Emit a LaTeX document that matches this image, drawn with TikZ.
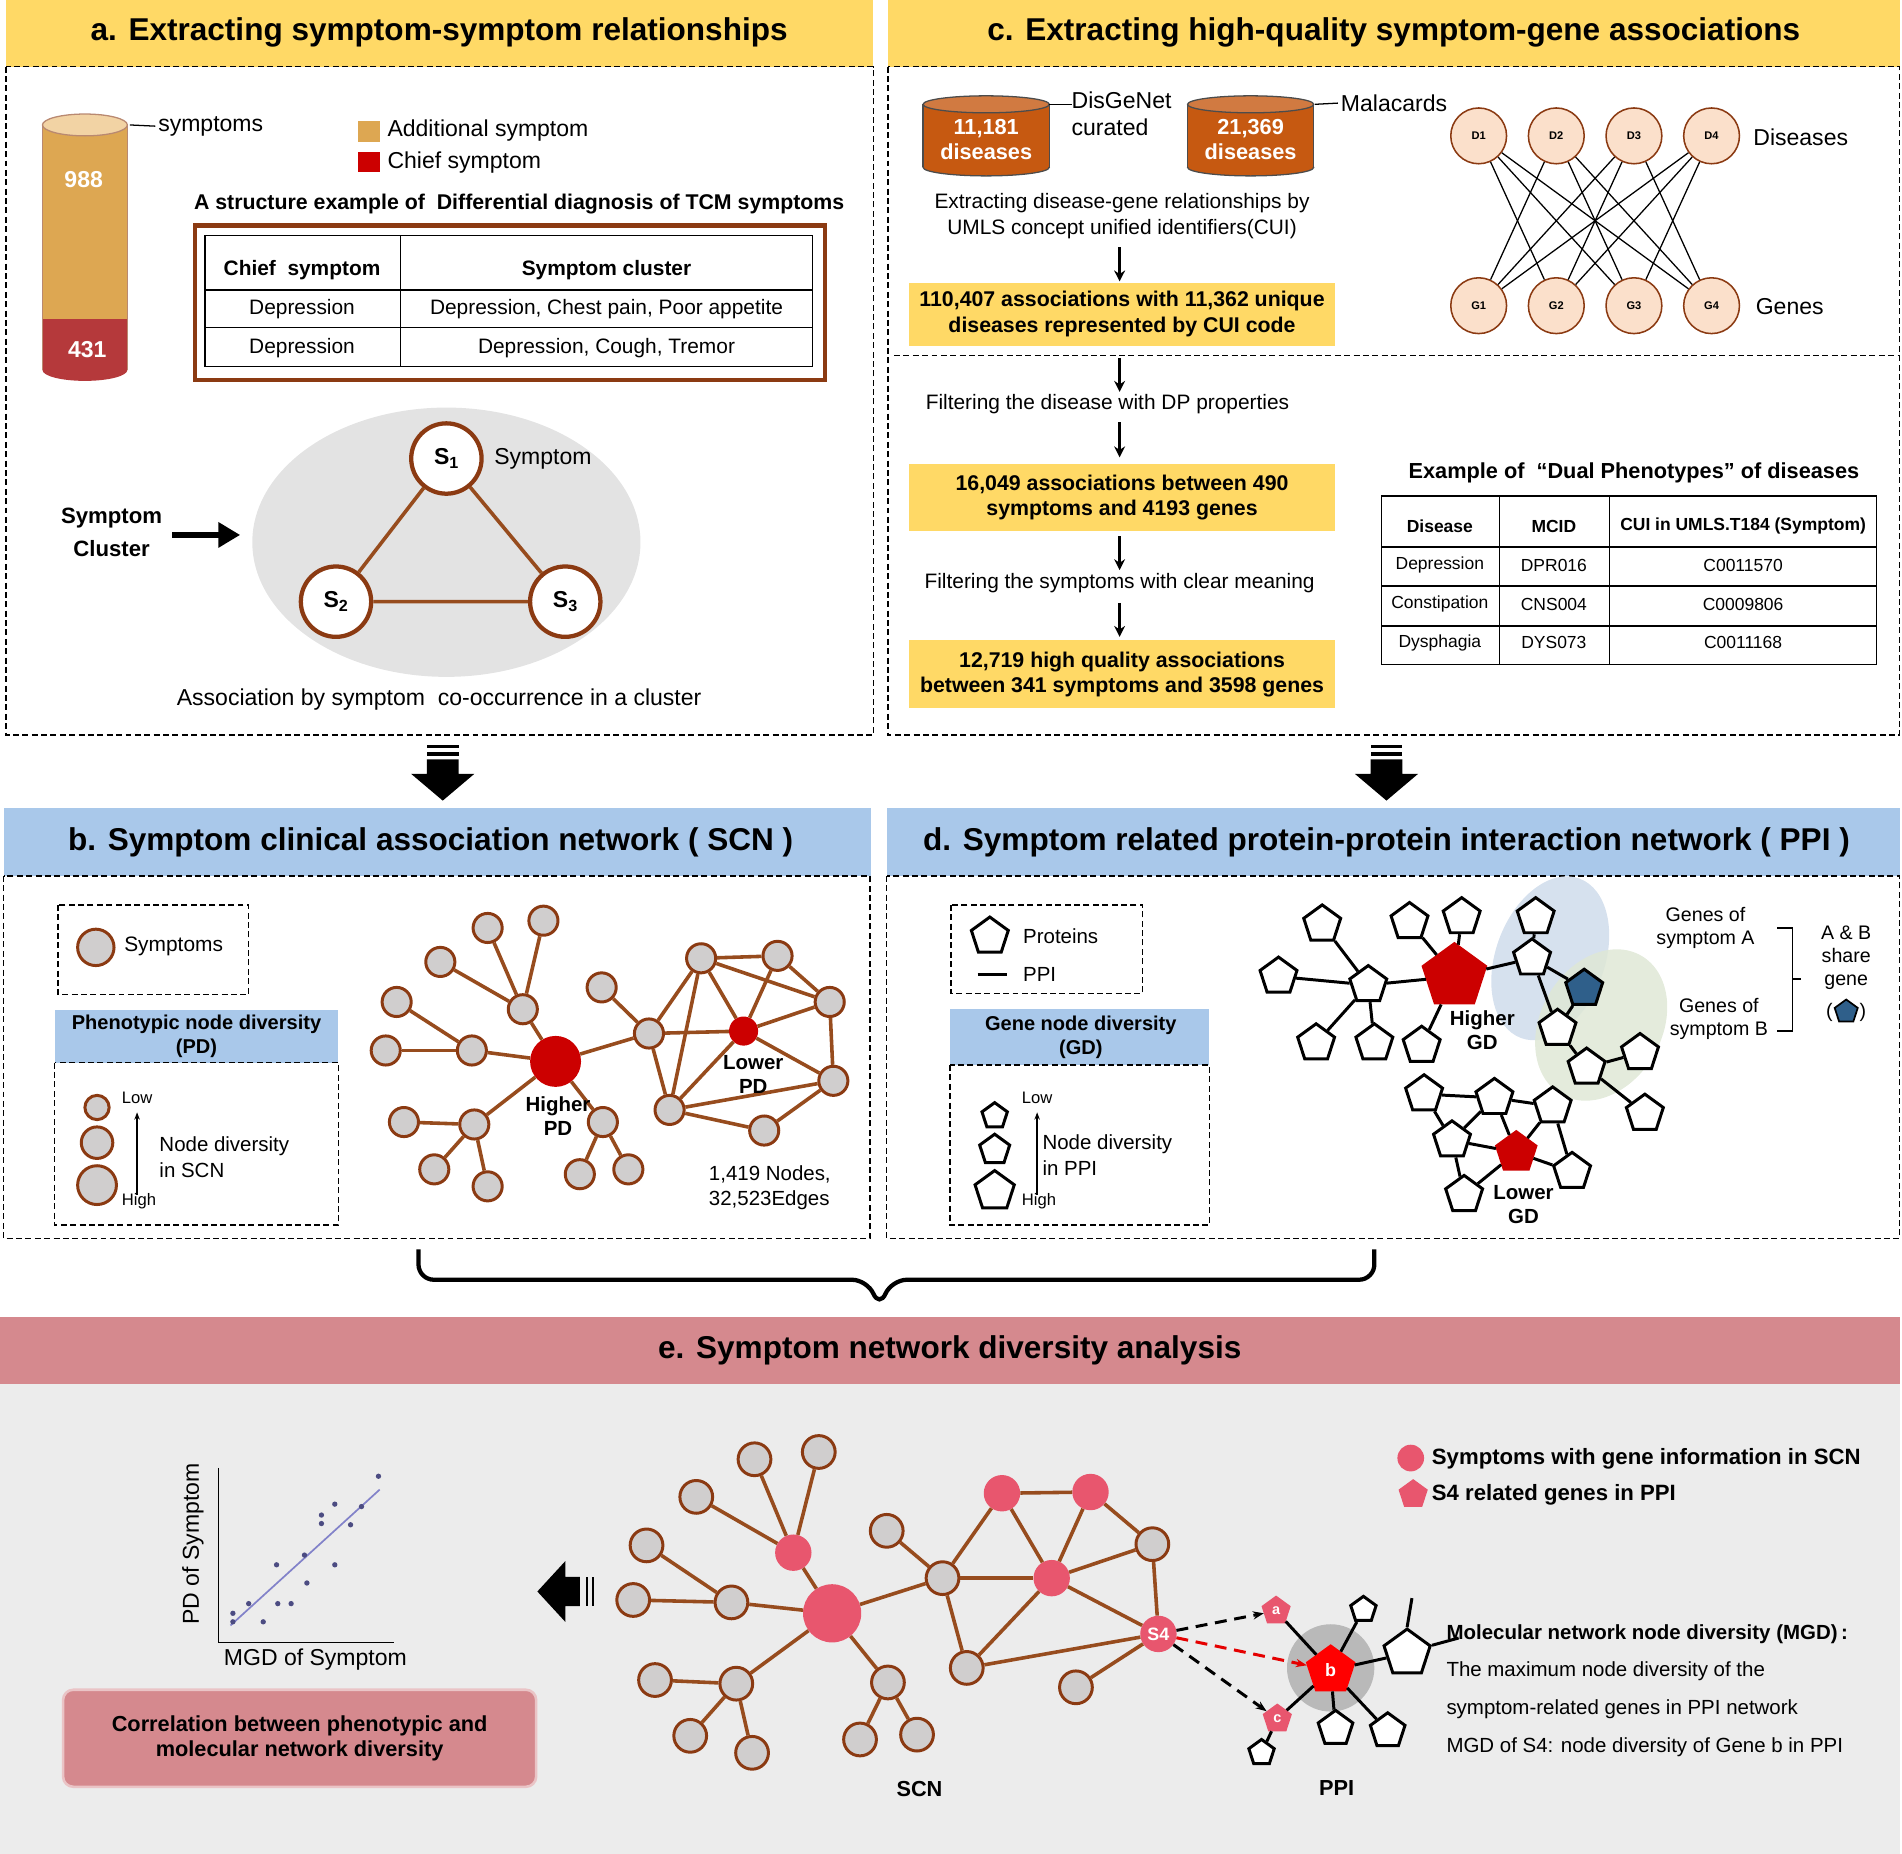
\documentclass[tikz,border=0pt]{standalone}
\usepackage{fontspec}
\setmainfont{Liberation Sans}
\usetikzlibrary{shapes.geometric,arrows.meta,decorations.pathreplacing}
\definecolor{yH}{HTML}{FFD966}
\definecolor{bH}{HTML}{A9C8EA}
\definecolor{pH}{HTML}{D5898E}
\definecolor{brn}{HTML}{8B3A12}
\definecolor{edg}{HTML}{974C1E}
\definecolor{gn}{HTML}{D0CECE}
\definecolor{org}{HTML}{C65911}
\definecolor{tan}{HTML}{DDA752}
\definecolor{tanl}{HTML}{F2D3A4}
\definecolor{cred}{HTML}{B5393B}
\definecolor{peach}{HTML}{FBE0CB}
\definecolor{pk}{HTML}{E8566E}
\definecolor{dblue}{HTML}{2F5F8A}
\definecolor{ellB}{HTML}{D6E1EE}
\definecolor{ellG}{HTML}{DFE8D6}
\begin{document}
\begin{tikzpicture}[x=0.05cm,y=-0.05cm,
 fR/.style={font=\fontsize{27}{32}\selectfont},
 fT/.style={font=\fontsize{37}{44}\selectfont\bfseries},
 fB/.style={font=\fontsize{25.5}{30}\selectfont\bfseries,align=center},
 hd/.style={inner sep=0,anchor=center},
 dbox/.style={draw,dash pattern=on 7pt off 4pt,line width=1.8pt},
 n/.style={circle,draw=brn,line width=3.5pt,fill=gn,minimum size=24*0.05cm,inner sep=0},
 s/.style={circle,draw=brn,line width=5pt,fill=white,minimum size=58*0.05cm,inner sep=0,font=\fontsize{27}{32}\selectfont\bfseries},
 pn/.style={regular polygon,regular polygon sides=5,draw,line width=3.5pt,fill=white,minimum size=32*0.05cm,inner sep=0},
 dg/.style={circle,draw=brn,line width=1.8pt,fill=peach,minimum size=46*0.05cm,inner sep=0,font=\fontsize{13}{15}\selectfont\bfseries},
 ed/.style={draw=edg,line width=4.2pt},
 pe/.style={draw,line width=3.5pt},
 ar/.style={-{Triangle[length=0.9cm,width=1cm]},line width=8pt},
 yb/.style={fill=yH,minimum width=351*0.05cm,minimum height=52*0.05cm,font=\fontsize{25}{30}\selectfont\bfseries,align=center,inner sep=0},
 da/.style={-{Stealth[length=0.45cm]},dash pattern=on 14pt off 9pt,line width=3.5pt},
]
\useasboundingbox (0,0) rectangle (1568,1528);
%% headers
\fill[yH] (5,0) rectangle (720,55); \node[fT,hd] (ta) at (362,27) {a. Extracting symptom-symptom relationships};
\fill[yH] (732,0) rectangle (1566,55); \node[fT,hd] (tc) at (1149,27) {c. Extracting high-quality symptom-gene associations};
\draw[dbox] (5,55) rectangle (720,606);
\draw[dbox] (732,55) rectangle (1566,606);
\draw[dbox] (737,293) -- (1566,293);
\fill[bH] (3,666) rectangle (718,722); \node[fT,hd] (tb) at (355,694) {b. Symptom clinical association network ( SCN )};
\fill[bH] (731,666) rectangle (1566,722); \node[fT,hd] (td) at (1143,694) {d. Symptom related protein-protein interaction network ( PPI )};
\draw[dbox] (3,722) rectangle (717,1021);
\draw[dbox] (731,722) rectangle (1566,1021);
\fill[pH] (0,1086) rectangle (1566,1141); \node[fT,hd] (te) at (783,1113) {e. Symptom network diversity analysis};
\fill[gray!15] (0,1141) rectangle (1566,1528);
%% big down arrows
\foreach \xx/\nm in {365/da1,1143/da2}{
 \fill (\xx-13,614) rectangle (\xx+13,617); \fill (\xx-13,620) rectangle (\xx+13,623);
 \fill (\xx-13,626) -- (\xx+13,626) -- (\xx+13,638) -- (\xx+26,638) -- (\xx,660) -- (\xx-26,638) -- (\xx-13,638) -- cycle;
 \coordinate (\nm) at (\xx,660);}
%% brace
\draw[line width=5pt,rounded corners=18pt] (345,1030) -- (345,1055) -- (715,1055) -- (725,1078) -- (735,1055) -- (1133,1055) -- (1133,1030);
%% ===== panel a
\fill[cred] (35,263) rectangle (105,305);
\fill[cred] (70,305) ellipse (35 and 9);
\fill[tan] (35,103) rectangle (105,263);
\draw[brn!60,line width=1.5pt] (35,103) -- (35,305) (105,103)--(105,305);
\draw[brn!60,fill=tanl,line width=1.5pt] (70,103) ellipse (35 and 9);
\node[font=\fontsize{27}{32}\selectfont\bfseries,text=white] (n988) at (69,148) {988};
\node[font=\fontsize{27}{32}\selectfont\bfseries,text=white] (n431) at (72,288) {431};
\node[fR,anchor=west] (lsym) at (128,104) {symptoms};
\draw[line width=1.5pt] (107,103) -- (lsym.west);
\fill[tan] (295,100) rectangle (313,117); \node[fR,anchor=west] (la) at (317,108) {Additional symptom};
\fill[red!80!black] (295,125) rectangle (313,142); \node[fR,anchor=west] (lc) at (317,134) {Chief symptom};
\node[font=\fontsize{25}{30}\selectfont\bfseries] (tsx) at (428,168) {A structure example of\ \ Differential diagnosis of TCM symptoms};
\draw[brn,line width=5pt] (161,186) rectangle (680,313);
\draw[line width=1.5pt] (169,194) rectangle (670,302) (169,239)--(670,239) (169,270)--(670,270) (330,194)--(330,302);
\tikzset{ta/.style={font=\fontsize{24.5}{29}\selectfont}}
\node[ta,font=\fontsize{24.5}{29}\selectfont\bfseries] (h1) at (249,223) {Chief\ \ symptom};
\node[ta,font=\fontsize{24.5}{29}\selectfont\bfseries] (h2) at (500,223) {Symptom cluster};
\node[ta] (r11) at (249,255) {Depression};
\node[ta] (r12) at (500,255) {Depression, Chest pain, Poor appetite};
\node[ta] (r21) at (249,287) {Depression};
\node[ta] (r22) at (500,287) {Depression, Cough, Tremor};
\fill[gray!22] (368,447) ellipse (160 and 111);
\node[s] (S1) at (368,378) {S\textsubscript{1}};
\node[s] (S2) at (277,496) {S\textsubscript{2}};
\node[s] (S3) at (466,496) {S\textsubscript{3}};
\draw[edg,line width=4.2pt] (S1)--(S2)--(S3)--(S1);
\node[fR,anchor=west] (lsy) at (405,378) {Symptom};
\node[font=\fontsize{26}{31}\selectfont\bfseries,align=center] (scl) at (92,439) {Symptom\\[8pt]Cluster};
\coordinate (arA) at (142,441); \coordinate (arB) at (198,441);
\draw[ar] (arA) -- (arB);
\node[fR] (assoc) at (362,577) {Association by symptom\ \ co-occurrence in a cluster};
%% ===== panel c
\foreach \cx/\lab/\nm in {813/{11,181\\diseases}/cy1,1031/{21,369\\diseases}/cy2}{
 \draw[black!70,line width=1.5pt,fill=org] (\cx,138) ellipse (52 and 7);
 \fill[org] (\cx-52,86) rectangle (\cx+52,138);
 \draw[black!70,line width=1.5pt] (\cx-52,86)--(\cx-52,138) (\cx+52,86)--(\cx+52,138);
 \draw[black!70,line width=1.5pt,fill=org!80] (\cx,86) ellipse (52 and 7);
 \node[fB,text=white] (\nm) at (\cx,115) {\lab};}
\node[fR,anchor=north west,align=left] (dis) at (881,73) {DisGeNet\\curated};
\draw[line width=1.5pt] (865,86) -- (884,86);
\node[fR,anchor=west] (mal) at (1103,85) {Malacards};
\draw[line width=1.5pt] (1084,86) -- (mal.west);
\node[font=\fontsize{24.5}{30}\selectfont,align=center] (ext) at (925,178) {Extracting disease-gene relationships by\\UMLS concept unified identifiers(CUI)};
\node[yb] (y1) at (925,259) {110,407 associations with 11,362 unique\\diseases represented by CUI code};
\node[yb,minimum height=55*0.05cm] (y2) at (925,410) {16,049 associations between 490\\symptoms and 4193 genes};
\node[yb,minimum height=56*0.05cm] (y3) at (925,556) {12,719 high quality associations\\between 341 symptoms and 3598 genes};
\node[font=\fontsize{24.5}{30}\selectfont] (f1) at (913,333) {Filtering the disease with DP properties};
\node[font=\fontsize{24.5}{30}\selectfont] (f2) at (923,481) {Filtering the symptoms with clear meaning};
\tikzset{sa/.style={-{Stealth[length=0.45cm,width=0.45cm]},line width=4pt}}
\coordinate (c1) at (923,204); \coordinate (c2) at (923,232);
\coordinate (c3) at (923,295); \coordinate (c4) at (923,323);
\coordinate (c5) at (923,348); \coordinate (c6) at (923,377);
\coordinate (c7) at (923,442); \coordinate (c8) at (923,470);
\coordinate (c9) at (923,497); \coordinate (c10) at (923,525);
\draw[sa] (c1)--(c2); \draw[sa] (c3)--(c4); \draw[sa] (c5)--(c6); \draw[sa] (c7)--(c8); \draw[sa] (c9)--(c10);
\foreach \i/\xx in {1/1219,2/1283,3/1347,4/1411}{
 \node[dg] (D\i) at (\xx,112) {D\i};
 \node[dg] (G\i) at (\xx,252) {G\i};}
\foreach \a/\b in {1/2,1/3,1/4,2/1,2/3,2/4,3/1,3/2,3/4,4/1,4/2,4/3}{\draw[line width=1.5pt] (D\a)--(G\b);}
\node[fR,anchor=west] (ldis) at (1443,113) {Diseases};
\node[fR,anchor=west] (lgen) at (1445,253) {Genes};
\node[font=\fontsize{25.5}{30}\selectfont\bfseries] (tex) at (1347,390) {Example of \ “Dual Phenotypes” of diseases};
\draw[line width=1.5pt] (1139,409) rectangle (1547,548) (1139,451)--(1547,451) (1139,483)--(1547,483) (1139,516)--(1547,516) (1236,409)--(1236,548) (1327,409)--(1327,548);
\tikzset{tb/.style={font=\fontsize{20.5}{24}\selectfont\bfseries},td/.style={font=\fontsize{20.5}{24}\selectfont}}
\node[tb] (e11) at (1187,434) {Disease}; \node[tb] (e12) at (1281,434) {MCID}; \node[tb] (e13) at (1437,434) {CUI in UMLS.T184 (Symptom)};
\node[td] (e21) at (1187,466) {Depression}; \node[td] (e22) at (1281,466) {DPR016}; \node[td] (e23) at (1437,466) {C0011570};
\node[td] (e31) at (1187,498) {Constipation}; \node[td] (e32) at (1281,498) {CNS004}; \node[td] (e33) at (1437,498) {C0009806};
\node[td] (e41) at (1187,530) {Dysphagia}; \node[td] (e42) at (1281,530) {DYS073}; \node[td] (e43) at (1437,530) {C0011168};
%% ===== panel b
\draw[dbox] (48,746) rectangle (205,820);
\node[n,minimum size=30*0.05cm] (lsn) at (79,781) {};
\node[font=\fontsize{24.5}{30}\selectfont,anchor=west] (lsymp) at (100,780) {Symptoms};
\fill[bH] (45,833) rectangle (279,876);
\node[fB,font=\fontsize{23.5}{28}\selectfont\bfseries] (pdt) at (162,854) {Phenotypic node diversity\\(PD)};
\draw[dbox] (45,876) rectangle (279,1010);
\node[n,minimum size=20*0.05cm] (ls1) at (80,913) {};
\node[n,minimum size=26*0.05cm] (ls2) at (80,942) {};
\node[n,minimum size=32*0.05cm] (ls3) at (80,977) {};
\coordinate (ua) at (113,985); \coordinate (ub) at (113,917);
\draw[-{Stealth[length=0.3cm]},line width=1.5pt] (ua)--(ub);
\node[font=\fontsize{19.5}{23}\selectfont,anchor=west] (low1) at (98,905) {Low};
\node[font=\fontsize{19.5}{23}\selectfont,anchor=west] (hig1) at (98,990) {High};
\node[font=\fontsize{24}{30}\selectfont,anchor=west,align=left] (nds) at (129,954) {Node diversity\\in SCN};
\node[circle,fill=red!80!black,minimum size=42*0.05cm,inner sep=0] (H) at (458,875) {};
\node[circle,fill=red!80!black,minimum size=24*0.05cm,inner sep=0] (L) at (613,850) {};
\foreach \nm/\xx/\yy in {b1/431/832,b2/389/866,b3/391/927,b4/497/925,b5/535/852,b6/402/765,b7/448/759,b8/363/793,b9/327/826,b10/318/866,b11/333/925,b12/358/964,b13/402/978,b14/478/968,b15/518/964,b16/496/814,b17/578/790,b18/641/788,b19/684/826,b20/687/891,b21/630/932,b22/552/915}{\node[n] (\nm) at (\xx,\yy) {};}
\foreach \a/\b in {H/b1,H/b2,H/b3,H/b4,H/b5,b1/b6,b1/b7,b1/b8,b2/b9,b2/b10,b3/b11,b3/b12,b3/b13,b4/b14,b4/b15,b16/b5,b5/b17,b5/b22,b5/L,b17/b18,b18/b19,b17/b19,b17/L,b18/L,L/b19,L/b20,b19/b20,b20/b21,b21/b22,b22/b20,b22/L,b17/b22}{\draw[ed] (\a)--(\b);}
\node[fB,font=\fontsize{24}{28}\selectfont\bfseries] (hpd) at (460,920) {Higher\\PD};
\node[fB,font=\fontsize{24}{28}\selectfont\bfseries] (lpd) at (621,886) {Lower\\PD};
\node[font=\fontsize{24}{30}\selectfont,anchor=west,align=left] (ne) at (582,979) {1,419 Nodes,\\32,523Edges};
%% ===== panel d
\draw[dbox] (784,746) rectangle (942,819);
\node[pn] (lp) at (816,772) {};
\node[font=\fontsize{24}{30}\selectfont,anchor=west] (lprot) at (841,772) {Proteins};
\coordinate (lpa) at (806,803); \coordinate (lpb) at (830,803);
\draw[line width=3.5pt] (lpa)--(lpb);
\node[font=\fontsize{24}{30}\selectfont,anchor=west] (lppi) at (841,803) {PPI};
\fill[bH] (783,832) rectangle (997,878);
\node[fB,font=\fontsize{23.5}{28}\selectfont\bfseries] (gdt) at (891,855) {Gene node diversity\\(GD)};
\draw[dbox] (783,878) rectangle (997,1010);
\node[pn,minimum size=22*0.05cm] (lp1) at (820,920) {};
\node[pn,minimum size=26*0.05cm] (lp2) at (820,948) {};
\node[pn,minimum size=34*0.05cm] (lp3) at (820,982) {};
\coordinate (va) at (855,985); \coordinate (vb) at (855,917);
\draw[-{Stealth[length=0.3cm]},line width=1.5pt] (va)--(vb);
\node[font=\fontsize{19.5}{23}\selectfont,anchor=west] (low2) at (840,905) {Low};
\node[font=\fontsize{19.5}{23}\selectfont,anchor=west] (hig2) at (840,990) {High};
\node[font=\fontsize{24}{30}\selectfont,anchor=west,align=left] (ndp) at (857,952) {Node diversity\\in PPI};
\fill[ellB,rotate around={-20:(1278,790)}] (1278,790) ellipse (45 and 70);
\fill[ellG,opacity=0.85,rotate around={-30:(1320,845)}] (1320,845) ellipse (50 and 66);
\node[pn,fill=red!80!black,draw=red!80!black,minimum size=54*0.05cm] (Hd) at (1199,805) {};
\node[pn,fill=red!80!black,draw=red!80!black,minimum size=34*0.05cm] (Ld) at (1250,950) {};
\foreach \nm/\xx/\yy in {p1/1090/762,p2/1054/805,p3/1128/812,p4/1085/860,p5/1133/860,p6/1162/760,p7/1205/756,p8/1172/862,p9/1266/756,p10/1263/790,p12/1284/848,p13/1308/880,p14/1352/868,p15/1356/918,p16/1174/902,p17/1232/905,p18/1280/912,p19/1197/940,p20/1296/966,p21/1207/985}{\node[pn] (\nm) at (\xx,\yy) {};}
\node[pn,fill=dblue] (p11) at (1306,815) {};
\foreach \a/\b in {p3/p1,p3/p2,p3/p4,p3/p5,p3/Hd,Hd/p6,Hd/p7,Hd/p8,Hd/p10,p10/p9,p10/p11,p10/p12,p12/p13,p13/p14,p13/p15,p12/p11,p16/p17,p17/p18,p17/Ld,p19/Ld,Ld/p20,Ld/p21,p18/Ld,p16/p19,p19/p21,p18/p20,p17/p19}{\draw[pe] (\a)--(\b);}
\node[fB,font=\fontsize{24}{28}\selectfont\bfseries] (hgd) at (1222,849) {Higher\\GD};
\node[fB,font=\fontsize{24}{28}\selectfont\bfseries] (lgd) at (1256,993) {Lower\\GD};
\node[font=\fontsize{23}{27}\selectfont,align=center] (gA) at (1406,765) {Genes of\\symptom A};
\node[font=\fontsize{23}{27}\selectfont,align=center] (gB) at (1417,840) {Genes of\\symptom B};
\draw[line width=1.5pt] (1465,765) -- (1478,765) -- (1478,850) -- (1465,850) (1478,807)--(1485,807);
\node[font=\fontsize{23}{27}\selectfont,align=center,anchor=north] (share) at (1522,761) {A \& B\\share\\gene};
\node[pn,fill=dblue,minimum size=20*0.05cm,line width=2pt] (shp) at (1522,834) {};
\node[font=\fontsize{23}{27}\selectfont,anchor=east,inner sep=0] (pl) at (1511,835) {(};
\node[font=\fontsize{23}{27}\selectfont,anchor=west,inner sep=0] (pr) at (1533,835) {)};
%% ===== panel e
\draw[line width=1.5pt] (180,1210) -- (180,1354) -- (325,1354);
\coordinate (fa) at (190,1340); \coordinate (fb) at (313,1228);
\draw[blue!40!gray!70,line width=2pt] (fa)--(fb);
\foreach \xx/\yy in {192/1330,205/1322,217/1337,229/1322,240/1322,228/1290,253/1305,251/1282,276/1290,265/1249,265/1256,276/1240,289/1257,298/1242,312/1217,192/1337}{\fill[blue!30!black!70] (\xx,\yy) circle (2.2);}
\node[fR,rotate=90] (ypd) at (159,1273) {PD of Symptom};
\node[fR] (xmgd) at (260,1368) {MGD of Symptom};
\node[draw=pH!50,line width=3pt,fill=pH,rounded corners=12pt,minimum width=390*0.05cm,minimum height=80*0.05cm,fB] (corr) at (247,1433) {Correlation between phenotypic and\\molecular network diversity};
\fill (488,1300) rectangle (490,1324); \fill (483,1300) rectangle (485,1324);
\fill (478,1300) -- (478,1324) -- (466,1324) -- (466,1337) -- (443,1312) -- (466,1287) -- (466,1300) -- cycle;
\coordinate (la1) at (443,1312);
\node[circle,fill=pk,minimum size=48*0.05cm,inner sep=0] (E) at (686,1330) {};
\foreach \nm/\xx/\yy in {e1/654/1280,e2/826/1231,e3/899/1230,e4/867/1301}{\node[circle,fill=pk,minimum size=30*0.05cm,inner sep=0] (\nm) at (\xx,\yy) {};}
\node[circle,fill=pk,minimum size=30*0.05cm,inner sep=0,text=white,font=\fontsize{21}{25}\selectfont\bfseries] (S4) at (955,1347) {S4};
\foreach \nm/\xx/\yy in {g1/622/1203,g2/675/1197,g3/574/1234,g4/533/1274,g5/522/1319,g6/603/1321,g7/540/1385,g8/607/1388,g9/569/1431,g10/620/1445,g11/732/1387,g12/709/1434,g13/756/1430,g14/777/1301,g15/731/1262,g16/797/1375,g17/887/1391,g18/950/1273}{\node[n,minimum size=27*0.05cm] (\nm) at (\xx,\yy) {};}
\foreach \a/\b in {E/e1,E/g6,E/g8,E/g11,E/g14,e1/g1,e1/g2,e1/g3,g6/g4,g6/g5,g8/g7,g8/g9,g8/g10,g11/g12,g11/g13,g14/g15,g14/e2,g14/e4,g14/g16,e2/e3,e2/e4,e3/e4,e3/g18,e4/g18,e4/S4,g18/S4,g16/S4,g17/S4,g16/e4}{\draw[ed] (\a)--(\b);}
\node[fB] (lscn) at (758,1475) {SCN};
\fill[gray!55] (1097,1375) circle (36);
\node[pn,fill=red,draw=red,minimum size=40*0.05cm,text=white,font=\fontsize{21}{25}\selectfont\bfseries] (pb) at (1097,1377) {b};
\node[pn,fill=pk,draw=pk,minimum size=24*0.05cm,text=white,font=\fontsize{17}{20}\selectfont\bfseries,line width=1.5pt] (pa) at (1052,1328) {a};
\node[pn,fill=pk,draw=pk,minimum size=24*0.05cm,text=white,font=\fontsize{17}{20}\selectfont\bfseries,line width=1.5pt] (pc) at (1053,1417) {c};
\foreach \nm/\xx/\yy/\sz in {q1/1124/1327/22,q2/1160/1363/40,q3/1040/1445/22,q4/1101/1425/30,q5/1144/1427/30}{\node[pn,minimum size=\sz*0.05cm] (\nm) at (\xx,\yy) {};}
\foreach \a/\b in {pb/pa,pb/pc,pb/q1,pb/q2,pb/q4,pb/q5,pc/q3}{\draw[pe] (\a)--(\b);}
\draw[line width=3.5pt] (q2.corner 1) -- ++(4,-24) (q2.corner 5) -- ++(22,-6);
\draw[da] (S4)--(pa);
\draw[da] (S4)--(pc);
\draw[da,red!90!black] (S4)--(pb);
\node[fB] (lppi2) at (1102,1474) {PPI};
\node[circle,fill=pk,minimum size=22*0.05cm,inner sep=0] (lgc) at (1163,1202) {};
\node[fB,font=\fontsize{26}{30}\selectfont\bfseries,anchor=west] (lg1) at (1178,1203) {Symptoms with gene information in SCN};
\node[pn,fill=pk,draw=pk,minimum size=24*0.05cm,line width=1.5pt] (lgp) at (1165,1232) {};
\node[fB,font=\fontsize{26}{30}\selectfont\bfseries,anchor=west] (lg2) at (1178,1232) {S4 related genes in PPI};
\node[font=\fontsize{24}{28}\selectfont\bfseries,anchor=west] (m1) at (1190,1347) {Molecular network node diversity (MGD)\,:};
\node[font=\fontsize{24}{28}\selectfont,anchor=west] (m2) at (1190,1378) {The maximum node diversity of the};
\node[font=\fontsize{24}{28}\selectfont,anchor=west] (m3) at (1190,1409) {symptom-related genes in PPI network};
\node[font=\fontsize{24}{28}\selectfont,anchor=west] (m4) at (1190,1440) {MGD of S4: node diversity of Gene b in PPI};
\end{tikzpicture}
\end{document}
